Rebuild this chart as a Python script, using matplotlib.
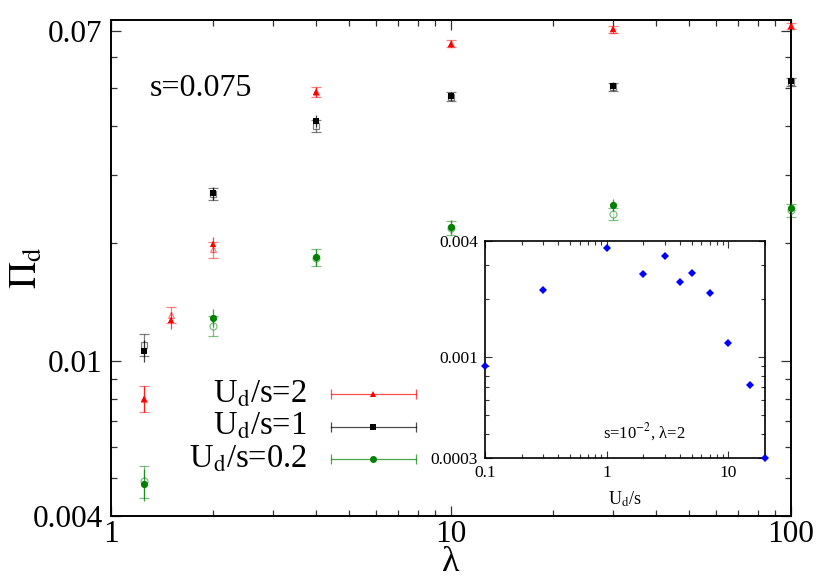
import matplotlib
matplotlib.use("Agg")
import matplotlib.pyplot as plt
from matplotlib.ticker import LogLocator, FixedLocator, FixedFormatter, NullFormatter

plt.rcParams["font.family"] = ["Liberation Serif", "DejaVu Serif"]
plt.rcParams["mathtext.fontset"] = "stix"

# ── main panel data: Pi_d vs lambda, s = 0.075 ─────────────────────────
lam_red = [1.25, 1.5, 2, 4, 10, 30, 100]
pi_red = [0.0080, 0.0127, 0.0199, 0.0489, 0.0651, 0.0708, 0.0724]
err_red = [0.0006, 0.0006, 0.0009, 0.0014, 0.0012, 0.0014, 0.0012]
pi_red_open = [0.0080, 0.0131, 0.0193, 0.0490, 0.0651, 0.0706, 0.0722]

lam_blk = [1.25, 2, 4, 10, 30, 100]
pi_blk = [0.0106, 0.0269, 0.0412, 0.0478, 0.0506, 0.0522]
err_blk = [0.0007, 0.0010, 0.0015, 0.0012, 0.0012, 0.0012]
pi_blk_open = [0.0110, 0.0268, 0.0400, 0.0476, 0.0504, 0.0520]

lam_grn = [1.25, 2, 4, 10, 30, 100]
pi_grn = [0.00483, 0.0129, 0.01845, 0.0220, 0.0251, 0.0246]
err_grn = [0.00045, 0.0007, 0.0009, 0.0009, 0.0009, 0.0009]
pi_grn_open = [0.00491, 0.0123, 0.0184, 0.0219, 0.0238, 0.0243]

labels = ["U$_{\\rm d}$/s=2", "U$_{\\rm d}$/s=1", "U$_{\\rm d}$/s=0.2"]

# ── inset data: Pi_d vs U_d/s at s=1e-2, lambda=2 ───────────────────────
uds_inset = [0.1, 0.3, 1, 2, 3, 4, 5, 7, 10, 15, 20]
pi_inset = [0.000895, 0.00223, 0.0037, 0.0027, 0.00336, 0.00244,
            0.00274, 0.00214, 0.00119, 0.000713, 0.0003]

RED, BLACK, GREEN, BLUE = "#ff0000", "#000000", "#008000", "#0000ff"

fig = plt.figure(figsize=(8.3, 5.81), dpi=100)
ax = fig.add_axes([0.1337, 0.1119, 0.8193, 0.8537])

series = [
    (lam_red, pi_red, err_red, pi_red_open, RED, "^", 5),
    (lam_blk, pi_blk, err_blk, pi_blk_open, BLACK, "s", 5),
    (lam_grn, pi_grn, err_grn, pi_grn_open, GREEN, "o", 5),
]
for lam, pi, err, pi_open, col, mk, ms in series:
    # open symbols (second estimate)
    ax.errorbar(lam, pi_open, yerr=err, fmt=mk, mfc="white", mec=col, ms=ms,
                mew=0.9, ecolor=col, elinewidth=0.9, capsize=3.5, capthick=0.9,
                alpha=0.5, zorder=2, clip_on=False)
    ax.errorbar(lam, pi, yerr=err, fmt=mk, color=col, ms=ms, mew=0,
                ecolor=col, elinewidth=0.9, capsize=3.5, capthick=0.9,
                alpha=0.75, zorder=3, clip_on=False)
    # filled markers solid on top
    ax.plot(lam, pi, mk, color=col, ms=ms, mew=0, zorder=4, clip_on=False)

ax.set_xscale("log")
ax.set_yscale("log")
ax.set_xlim(1, 100)
ax.set_ylim(0.004, 0.0748)

ax.xaxis.set_major_locator(FixedLocator([1, 10, 100]))
ax.xaxis.set_major_formatter(FixedFormatter(["1", "10", "100"]))
ax.xaxis.set_minor_locator(LogLocator(base=10, subs=range(2, 10)))
ax.xaxis.set_minor_formatter(NullFormatter())
ax.yaxis.set_major_locator(FixedLocator([0.004, 0.01, 0.07]))
ax.yaxis.set_major_formatter(FixedFormatter(["0.004", "0.01", "0.07"]))
ax.yaxis.set_minor_locator(FixedLocator([0.005, 0.006, 0.007, 0.008, 0.009,
                                         0.02, 0.03, 0.04, 0.05, 0.06]))
ax.yaxis.set_minor_formatter(NullFormatter())

ax.tick_params(which="both", direction="in", top=True, right=True,
               labelsize=22.5, width=0.9, color="#333333")
ax.tick_params(which="major", length=7)
ax.tick_params(which="minor", length=4)
ax.tick_params(axis="x", which="major", pad=3)
ax.tick_params(axis="y", which="major", pad=6)
for sp in ax.spines.values():
    sp.set_linewidth(1.4)

ax.set_xlabel("λ", fontsize=26, labelpad=-2)
ax.set_ylabel("$\\Pi_{\\rm d}$", fontsize=27)
ax.yaxis.set_label_coords(-0.097, 0.5)

ax.text(0.057, 0.862, "s=0.075", transform=ax.transAxes, fontsize=23,
        ha="left", va="center")

# hand-drawn legend (horizontal bars with end caps)
leg_y = [0.245, 0.18, 0.115]
for (lam, pi, err, pi_open, col, mk, ms), lab, yy in zip(series, labels, leg_y):
    ax.text(0.288, yy, lab, transform=ax.transAxes, fontsize=23.5,
            ha="right", va="center")
    ax.plot([0.323, 0.449], [yy, yy], color=col, lw=0.9,
            transform=ax.transAxes, alpha=0.7)
    ax.plot([0.323, 0.449], [yy, yy], "|", color=col, ms=7, mew=0.9,
            transform=ax.transAxes, alpha=0.7)
    ax.plot([0.386], [yy], mk, color=col, ms=5, mew=0,
            transform=ax.transAxes)

# ── inset ───────────────────────────────────────────────────────────────
ins = fig.add_axes([0.5843, 0.2117, 0.3374, 0.3735])
ins.plot(uds_inset, pi_inset, "D", color=BLUE, ms=4.5, mew=0, clip_on=False,
         zorder=5)
ins.set_xscale("log")
ins.set_yscale("log")
ins.set_xlim(0.1, 20)
ins.set_ylim(0.0003, 0.004)
ins.xaxis.set_major_locator(FixedLocator([0.1, 1, 10]))
ins.xaxis.set_major_formatter(FixedFormatter(["0.1", "1", "10"]))
ins.xaxis.set_minor_locator(LogLocator(base=10, subs=range(2, 10)))
ins.xaxis.set_minor_formatter(NullFormatter())
ins.yaxis.set_major_locator(FixedLocator([0.0003, 0.001, 0.004]))
ins.yaxis.set_major_formatter(FixedFormatter(["0.0003", "0.001", "0.004"]))
ins.yaxis.set_minor_locator(FixedLocator([0.0004, 0.0005, 0.0006, 0.0007,
                                          0.0008, 0.0009, 0.002, 0.003]))
ins.yaxis.set_minor_formatter(NullFormatter())
ins.tick_params(which="both", direction="in", top=True, right=True,
                labelsize=12.5, width=0.8, color="#333333")
ins.tick_params(which="major", length=5, pad=5)
ins.tick_params(which="minor", length=3)
for sp in ins.spines.values():
    sp.set_linewidth(1.2)
ins.set_xlabel("U$_{\\rm d}$/s", fontsize=13, labelpad=6)
ins.text(0.57, 0.12, "s=10$^{-2}$, λ=2", transform=ins.transAxes,
         fontsize=12, ha="center", va="center")

fig.savefig("out.png", dpi=100)
